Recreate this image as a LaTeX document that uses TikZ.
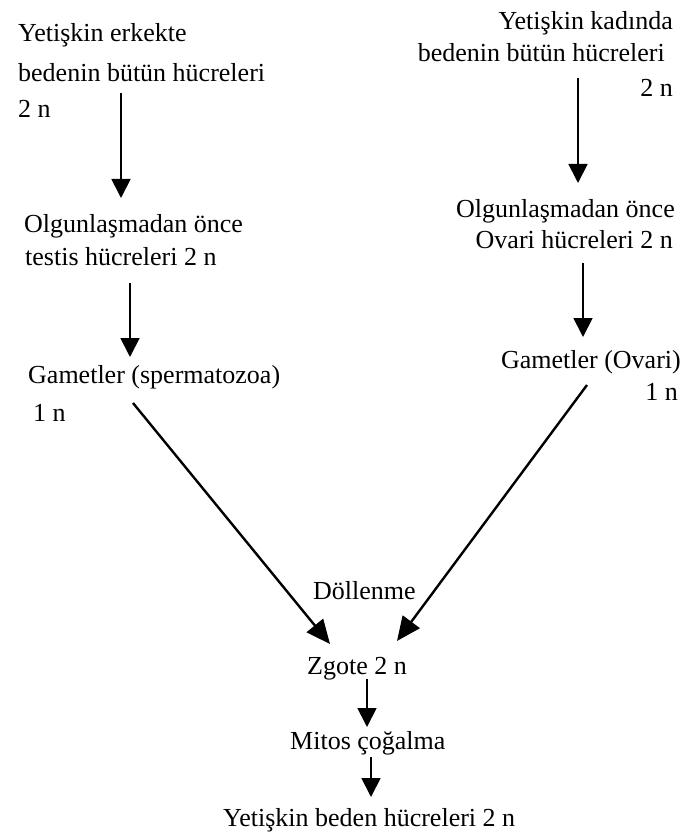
\documentclass[tikz,border=0pt]{standalone}
\usepackage{fontspec}
\setmainfont{Liberation Serif}
\usetikzlibrary{arrows.meta}
\begin{document}
\begin{tikzpicture}[x=1pt,y=-1pt,
  lbl/.style={inner sep=0pt,anchor=base west,font=\fontsize{26}{30}\selectfont},
  rlbl/.style={lbl,anchor=base east},
  arr/.style={line width=1.8pt,-{Triangle[width=19pt,length=19pt]}},
  darr/.style={line width=2.4pt,-{Triangle[width=21pt,length=24pt]}}]
\useasboundingbox (0,0) rectangle (696,834);
% left column
\node[lbl] (l1) at (18,42) {Yetişkin erkekte};
\node[lbl] (l2) at (18,82) {bedenin bütün hücreleri};
\node[lbl] (l3) at (18,118) {2 n};
\node[lbl] (l4) at (24,233) {Olgunlaşmadan önce};
\node[lbl] (l5) at (25,265) {testis hücreleri 2 n};
\node[lbl] (l6) at (28,383) {Gametler (spermatozoa)};
\node[lbl] (l7) at (33,421) {1 n};
% right column
\node[rlbl] (r1) at (673,30) {Yetişkin kadında};
\node[rlbl] (r2) at (665,62) {bedenin bütün hücreleri};
\node[rlbl] (r3) at (673,97) {2 n};
\node[rlbl] (r4) at (675,218) {Olgunlaşmadan önce};
\node[rlbl] (r5) at (673,248) {Ovari hücreleri 2 n};
\node[rlbl] (r6) at (681,368) {Gametler (Ovari)};
\node[rlbl] (r7) at (678,400) {1 n};
% centre
\node[lbl] (dol) at (313,599) {Döllenme};
\node[lbl] (zg) at (307,674) {Zgote 2 n};
\node[lbl] (mit) at (290,749) {Mitos çoğalma};
\node[lbl] (yb) at (223,826) {Yetişkin beden hücreleri 2 n};
% arrow end points
\coordinate (a1s) at (121,93);  \coordinate (a1e) at (121,198);
\coordinate (a2s) at (130,283); \coordinate (a2e) at (130,357);
\coordinate (a3s) at (578,78);  \coordinate (a3e) at (578,183);
\coordinate (a4s) at (583,263); \coordinate (a4e) at (583,337);
\coordinate (dls) at (133,403); \coordinate (dle) at (330,644);
\coordinate (drs) at (587,385); \coordinate (dre) at (397,641);
\coordinate (a5s) at (367,679); \coordinate (a5e) at (367,727);
\coordinate (a6s) at (371,757); \coordinate (a6e) at (371,797);
\draw[arr] (a1s) -- (a1e);
\draw[arr] (a2s) -- (a2e);
\draw[arr] (a3s) -- (a3e);
\draw[arr] (a4s) -- (a4e);
\draw[darr] (dls) -- (dle);
\draw[darr] (drs) -- (dre);
\draw[arr] (a5s) -- (a5e);
\draw[arr] (a6s) -- (a6e);
\end{tikzpicture}
\end{document}
